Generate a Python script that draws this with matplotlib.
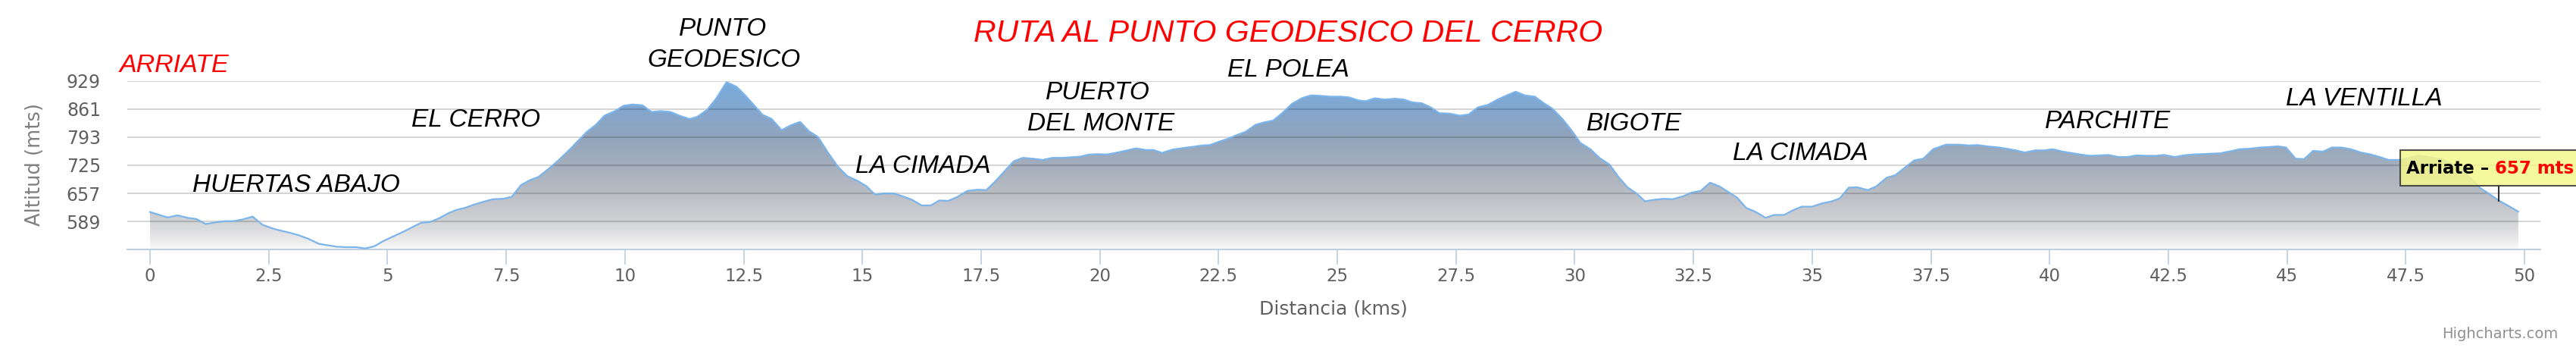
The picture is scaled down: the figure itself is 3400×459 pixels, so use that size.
import numpy as np
import matplotlib
matplotlib.use("Agg")
import matplotlib.pyplot as plt
from matplotlib.colors import LinearSegmentedColormap, Normalize
from matplotlib.patches import Polygon, Rectangle

# perfil de la ruta: distancia (km) y altitud (m)
distancia = [0.00, 0.37, 0.58, 0.79, 0.98, 1.17, 1.38, 1.57, 1.76, 1.95, 2.16, 2.37, 2.59, 2.75, 2.94,
             3.13, 3.34, 3.56, 3.72, 3.94, 4.15, 4.34, 4.53, 4.72, 4.90, 5.12, 5.33, 5.55, 5.71, 5.90,
             6.09, 6.28, 6.45, 6.63, 6.85, 7.06, 7.22, 7.44, 7.62, 7.81, 8.00, 8.18, 8.40, 8.61, 8.82,
             9.04, 9.20, 9.39, 9.57, 9.79, 9.97, 10.16, 10.37, 10.56, 10.75, 10.96, 11.17, 11.36, 11.52,
             11.73, 11.92, 12.14, 12.35, 12.50, 12.69, 12.90, 13.09, 13.30, 13.48, 13.69, 13.88, 14.07,
             14.28, 14.49, 14.68, 14.89, 15.08, 15.27, 15.45, 15.66, 15.85, 16.04, 16.25, 16.44, 16.62,
             16.81, 16.99, 17.21, 17.42, 17.61, 17.79, 17.98, 18.19, 18.38, 18.59, 18.80, 19.00, 19.21,
             19.59, 19.77, 19.96, 20.14, 20.33, 20.54, 20.76, 20.97, 21.13, 21.31, 21.53, 21.77, 21.98,
             22.16, 22.32, 22.51, 22.72, 22.88, 23.07, 23.28, 23.47, 23.65, 23.84, 24.05, 24.27, 24.45,
             24.64, 24.85, 25.07, 25.26, 25.44, 25.60, 25.79, 26.00, 26.22, 26.40, 26.59, 26.78, 26.97,
             27.15, 27.37, 27.58, 27.77, 27.96, 28.17, 28.36, 28.57, 28.76, 28.95, 29.16, 29.34, 29.53,
             29.75, 29.93, 30.12, 30.33, 30.52, 30.74, 30.92, 31.11, 31.30, 31.48, 31.69, 31.88, 32.06,
             32.28, 32.46, 32.65, 32.85, 33.05, 33.24, 33.42, 33.61, 33.80, 34.02, 34.20, 34.41, 34.59,
             34.78, 35.00, 35.21, 35.42, 35.58, 35.77, 35.95, 36.17, 36.35, 36.57, 36.75, 36.97, 37.15,
             37.34, 37.55, 37.82, 38.09, 38.30, 38.49, 38.67, 38.94, 39.10, 39.29, 39.48, 39.69, 39.88,
             40.06, 40.28, 40.49, 40.71, 40.87, 41.05, 41.24, 41.45, 41.64, 41.83, 42.02, 42.23, 42.42,
             42.63, 42.82, 43.00, 43.22, 43.41, 43.59, 43.81, 44.00, 44.21, 44.43, 44.61, 44.80, 44.98,
             45.18, 45.36, 45.55, 45.76, 45.94, 46.15, 46.34, 46.55, 46.77, 46.95, 47.14, 47.35, 47.77,
             48.26, 48.66, 49.07, 49.24, 49.47, 49.66, 49.87]
altitud = [612, 599, 604, 598, 595, 583, 587, 590, 590, 594, 601, 581, 572, 567, 562,
           556, 547, 535, 532, 528, 527, 527, 524, 529, 541, 553, 564, 577, 586, 588,
           597, 609, 617, 622, 631, 638, 643, 644, 649, 677, 689, 697, 717, 738, 761,
           787, 806, 823, 845, 856, 869, 872, 870, 854, 856, 854, 844, 837, 842,
           859, 886, 926, 915, 898, 874, 847, 837, 810, 821, 830, 807, 793,
           755, 721, 699, 688, 675, 654, 657, 657, 650, 642, 628, 628, 640,
           639, 648, 663, 666, 665, 685, 709, 735, 743, 741, 738, 743, 743,
           746, 751, 752, 751, 755, 760, 766, 762, 762, 755, 763, 767, 770,
           773, 774, 782, 790, 798, 806, 823, 829, 833, 851, 874, 888, 894,
           893, 891, 891, 889, 882, 880, 887, 884, 886, 884, 877, 875, 865,
           851, 850, 845, 848, 865, 871, 883, 894, 903, 894, 891, 876, 862,
           836, 810, 779, 764, 743, 726, 697, 672, 657, 638, 642, 644, 643,
           650, 659, 663, 683, 674, 660, 647, 622, 613, 598, 605, 605, 616,
           625, 625, 633, 638, 645, 671, 672, 665, 674, 695, 701, 721, 737,
           741, 764, 775, 775, 773, 774, 771, 768, 765, 761, 756, 761, 761,
           764, 758, 754, 750, 748, 749, 750, 745, 745, 749, 748, 748, 750,
           745, 749, 751, 752, 753, 754, 759, 764, 765, 768, 769, 771, 768,
           741, 740, 760, 758, 768, 768, 764, 756, 751, 745, 738, 738, 749,
           740, 718, 670, 657, 639, 627, 613]

y_ticks = [589, 657, 725, 793, 861, 929]
x_ticks = [0, 2.5, 5, 7.5, 10, 12.5, 15, 17.5, 20, 22.5, 25, 27.5, 30, 32.5, 35, 37.5, 40, 42.5, 45, 47.5, 50]

lugares = ["HUERTAS ABAJO", "EL CERRO", "PUNTO", "GEODESICO", "LA CIMADA", "PUERTO", "DEL MONTE",
           "EL POLEA", "BIGOTE", "LA CIMADA", "PARCHITE", "LA VENTILLA"]
# posicion en pixeles (centro x, linea base y)
lugares_pos = [(391, 253), (628, 167), (954, 47), (955, 88), (1218, 228), (1449, 131), (1453, 172),
               (1700, 101), (2157, 172), (2376, 211), (2782, 169), (3120, 139)]

W, H = 3400, 459
fig = plt.figure(figsize=(W / 100, H / 100), dpi=100)
ax = fig.add_axes([167.6 / W, (H - 329.3) / H, (3353 - 167.6) / W, (329.3 - 106.7) / H])

def px(x, y):
    return x / W, 1 - y / H

# relleno con degradado
stops = [(521, "#fbfbfb"), (540, "#ececed"), (589, "#d1d2d5"), (657, "#b9bdc4"),
         (725, "#a4aebc"), (793, "#91a5bc"), (861, "#83a7ce"), (929, "#78acdf")]
lo, hi = 521, 929
cmap = LinearSegmentedColormap.from_list("perfil", [((v - lo) / (hi - lo), c) for v, c in stops])
grad = np.linspace(hi, lo, 500)[:, None]
im = ax.imshow(grad, extent=[distancia[0], distancia[-1], lo, hi], aspect="auto",
               cmap=cmap, norm=Normalize(lo, hi), origin="upper", zorder=1)
verts = [(distancia[0], lo)] + list(zip(distancia, altitud)) + [(distancia[-1], lo)]
poly = Polygon(verts, closed=True, facecolor="none", edgecolor="none", transform=ax.transData)
ax.add_patch(poly)
im.set_clip_path(poly)

for v in y_ticks:
    ax.axhline(v, color="black", alpha=0.16, lw=1.5, zorder=3)

ax.plot(distancia, altitud, color="#7cb5ec", lw=1.6, zorder=4)

ax.set_xlim(-0.485, 50.335)
ax.set_ylim(lo, hi)
for s in ["top", "right", "left"]:
    ax.spines[s].set_visible(False)
ax.spines["bottom"].set_color("#c0d0e0")
ax.spines["bottom"].set_linewidth(1.5)

ax.set_xticks(x_ticks)
ax.set_xticklabels([f"{v:g}" for v in x_ticks])
ax.tick_params(axis="x", direction="out", length=14.4, width=1.3, color="#c0d0e0",
               labelsize=16.5, labelcolor="#606060", pad=3)
ax.set_yticks(y_ticks)
ax.set_yticklabels([str(v) for v in y_ticks])
ax.tick_params(axis="y", length=0, labelsize=17, labelcolor="#606060", pad=25)

fig.text(*px(1760, 408), "Distancia (kms)", ha="center", va="center", fontsize=18, color="#606060")
fig.text(*px(46, 217), "Altitud (mts)", ha="center", va="center", rotation=90,
         fontsize=18.5, color="#808080")
fig.text(*px(3376, 441), "Highcharts.com", ha="right", va="center", fontsize=14, color="#909090")

fig.text(*px(1700, 55), "RUTA AL PUNTO GEODESICO DEL CERRO", ha="center", va="baseline",
         fontsize=29.5, color="red", style="italic", family="Liberation Sans")
fig.text(*px(158, 95), "ARRIATE", ha="left", va="baseline", fontsize=24.5, color="red",
         style="italic", family="Liberation Sans")
for nombre, (x, y) in zip(lugares, lugares_pos):
    fig.text(*px(x, y), nombre, ha="center", va="baseline", fontsize=24, color="black",
             style="italic", family="Liberation Sans")

# tooltip
fig.patches.append(Rectangle(px(3168, 245), 260 / W, (245 - 198.3) / H, transform=fig.transFigure,
                             facecolor=(0.96, 0.97, 0.55), alpha=0.85, edgecolor="#333333", lw=1.5,
                             zorder=5))
fig.lines.append(plt.Line2D([3297.7 / W, 3297.7 / W], [1 - 245 / H, 1 - 265 / H],
                            transform=fig.transFigure, color="#333333", lw=1.5, zorder=5))
t1 = fig.text(*px(3176, 229), "Arriate \u2013 ", ha="left", va="baseline", fontsize=16.5,
              fontweight="bold", color="black", zorder=6)
r = fig.canvas.get_renderer()
bb = t1.get_window_extent(r)
fig.text(bb.x1 / W, 1 - 229 / H, "657 mts", ha="left", va="baseline", fontsize=16.5,
         fontweight="bold", color="red", zorder=6)

fig.savefig("out.png", dpi=100)
